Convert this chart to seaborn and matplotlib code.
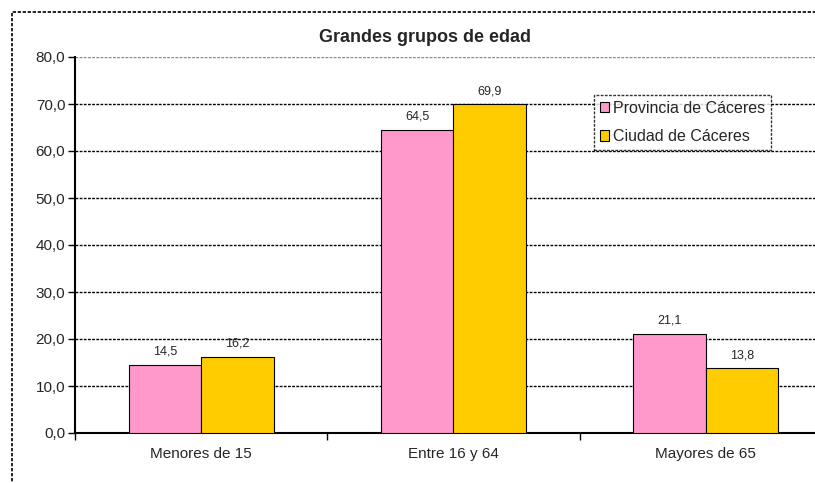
import pandas as pd
import numpy as np
import seaborn as sns
import matplotlib.pyplot as plt
from matplotlib.patches import Rectangle

grupos = ["Menores de 15", "Entre 16 y 64", "Mayores de 65"]
provincia = [14.5, 64.5, 21.1]
ciudad = [16.2, 69.9, 13.8]
series = ["Provincia de Cáceres", "Ciudad de Cáceres"]

df = pd.DataFrame({
    "grupo": grupos * 2,
    "valor": provincia + ciudad,
    "serie": [series[0]] * 3 + [series[1]] * 3,
})

sns.set_style("white")
plt.rcParams["font.family"] = ["Liberation Sans", "DejaVu Sans"]

fig = plt.figure(figsize=(8.15, 4.83), dpi=100)
ax = fig.add_axes([75 / 815, 1 - 433 / 483, 757 / 815, 376 / 483])

sns.barplot(data=df, x="grupo", y="valor", hue="serie", palette=["#FF99CC", "#FFCC00"],
            saturation=1, edgecolor="black", linewidth=0.8, width=0.574, ax=ax, zorder=3)

# etiquetas con coma decimal
for cont in ax.containers:
    ax.bar_label(cont, labels=[f"{v:.1f}".replace(".", ",") for v in cont.datavalues],
                 padding=5, fontsize=9)

ax.set_ylim(0, 80)
ax.set_xlim(-0.5, 2.5)
ax.set_yticks(np.arange(0, 81, 10))
ax.set_yticklabels([f"{v:.1f}".replace(".", ",") for v in np.arange(0, 81, 10)], fontsize=11)
ax.tick_params(axis="y", length=5, width=1, color="black", left=True, pad=2)
ax.set_xticks([0, 1, 2])
ax.set_xticklabels(grupos, fontsize=11)
ax.tick_params(axis="x", length=0, pad=10)
ax.set_xticks([-0.5, 0.5, 1.5], minor=True)
ax.tick_params(axis="x", which="minor", length=5, width=1, color="black", bottom=True)
ax.set_xlabel("")
ax.set_ylabel("")

for y in range(10, 81, 10):
    ax.axhline(y, color="black" if y < 80 else "#888888", linestyle=(0, (2, 1)),
               linewidth=1, zorder=1)

for s in ["top", "right"]:
    ax.spines[s].set_visible(False)
ax.spines["left"].set_color("black")
ax.spines["left"].set_linewidth(1.5)
ax.spines["bottom"].set_color("black")
ax.spines["bottom"].set_linestyle((0, (2, 1)))
ax.spines["bottom"].set_linewidth(1.5)

fig.text(425 / 815, 1 - 37 / 483, "Grandes grupos de edad", ha="center", va="center",
         fontsize=13, fontweight="bold")

leg = ax.legend(loc="upper left", bbox_to_anchor=((594 - 75) / 757, (433 - 95) / 376),
                frameon=True, fontsize=11.5, handlelength=0.6, handleheight=0.6,
                handletextpad=0.25, borderpad=0.35, labelspacing=0.85, fancybox=False,
                borderaxespad=0)
leg.get_frame().set_edgecolor("black")
leg.get_frame().set_linestyle((0, (2, 1)))
leg.get_frame().set_linewidth(1)

fig.patches.append(Rectangle((12 / 815, -0.1), 1.1, 1 - 12 / 483 + 0.1,
                             transform=fig.transFigure, fill=False, edgecolor="black",
                             linestyle=(0, (2, 1)), linewidth=1.2))

fig.savefig("out.png", dpi=100)
